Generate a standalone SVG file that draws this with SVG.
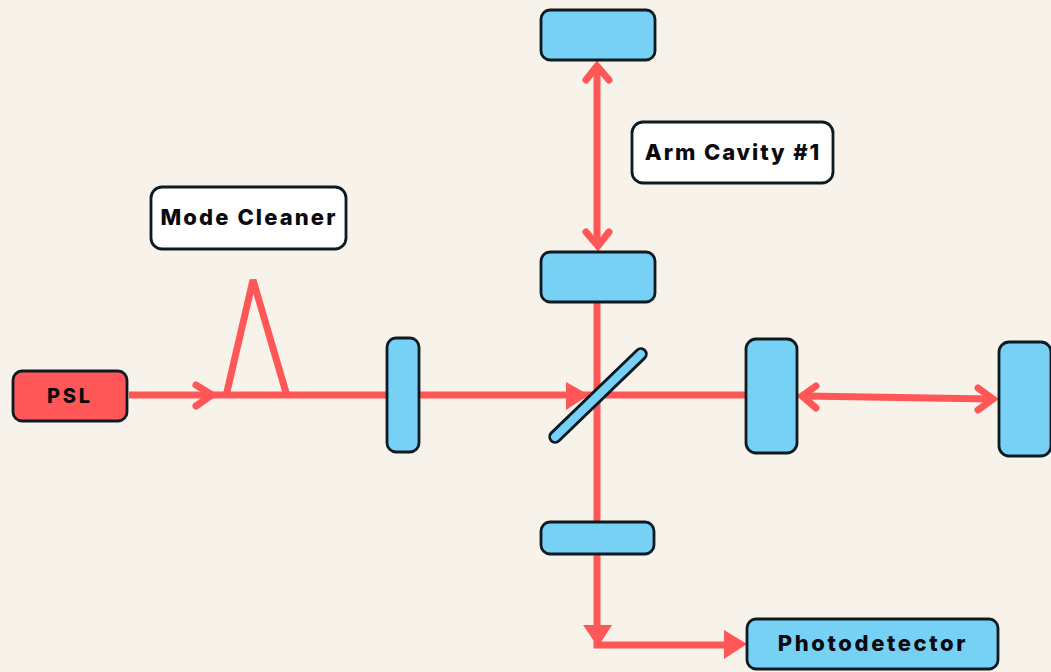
<svg xmlns="http://www.w3.org/2000/svg" width="1051" height="672" viewBox="0 0 1051 672">
<style>
.b{stroke:#0d1a22;stroke-width:2.8}
.m{fill:#77d1f5}
.w{fill:#fff}
.r{fill:#ff5757}
.l{fill:none;stroke:#ff5757;stroke-width:7}
.t{fill:none;stroke:#ff5757;stroke-width:7;stroke-linejoin:bevel}
.a{fill:none;stroke:#ff5757;stroke-width:7;stroke-linecap:round;stroke-linejoin:miter}
.f{fill:#ff5757;stroke:none}
text{font-family:"Inter","Liberation Sans",sans-serif;font-weight:800;fill:#0b0b0f;text-anchor:middle;font-size:22px}
</style>
<rect width="1051" height="672" fill="#f7f2ea"/>
<g id="connectors">
<path class="l" d="M129 395H386M419 395H745"/>
<path class="a" d="M196 385L212 395L196 406"/>
<path class="t" d="M226 396L253 280L287 396"/>
<path class="f" d="M566 382L589 395L566 410Z"/>
<path class="l" d="M597 303V521M597 554V645H730"/>
<path class="l" d="M597 70V243"/>
<path class="a" d="M586 80L597 66L609 80M586 232L598 246L609 232"/>
<path class="l" d="M805 396L992 399"/>
<path class="a" d="M816 386L802 396L816 408M978 388L993 399L978 410"/>
<path class="f" d="M583 625H612L598 647Z"/>
<path class="f" d="M724 630L747 644L724 659Z"/>
</g>
<g id="psl"><rect class="b r" x="13" y="371" width="114" height="50" rx="9"/><text x="70" y="403" style="font-size:20px;letter-spacing:2.8px">PSL</text></g>
<g id="mode-cleaner"><rect class="b w" x="151" y="187" width="195" height="62" rx="11"/><text x="249" y="225" style="letter-spacing:2.1px">Mode Cleaner</text></g>
<g id="arm-cavity"><rect class="b w" x="632" y="122" width="201" height="61" rx="11"/><text x="733" y="160" style="letter-spacing:1.9px">Arm Cavity #1</text></g>
<g id="input-mirror"><rect class="b m" x="387" y="338" width="32" height="114" rx="9"/></g>
<g id="top-mirror"><rect class="b m" x="541" y="10" width="114" height="50" rx="9"/></g>
<g id="arm-mirror"><rect class="b m" x="541" y="252" width="114" height="50" rx="9"/></g>
<g id="beam-splitter"><rect class="b m" x="533" y="390" width="130" height="11" rx="5.500" transform="rotate(-44 598 395.500)"/></g>
<g id="right-mirror-1"><rect class="b m" x="746" y="339" width="51" height="114" rx="10"/></g>
<g id="right-mirror-2"><rect class="b m" x="999" y="342" width="52" height="114" rx="10"/></g>
<g id="lower-mirror"><rect class="b m" x="541" y="522" width="113" height="32" rx="9"/></g>
<g id="photodetector"><rect class="b m" x="747" y="619" width="251" height="50" rx="9"/><text x="873" y="651" style="letter-spacing:2.6px">Photodetector</text></g>
</svg>
